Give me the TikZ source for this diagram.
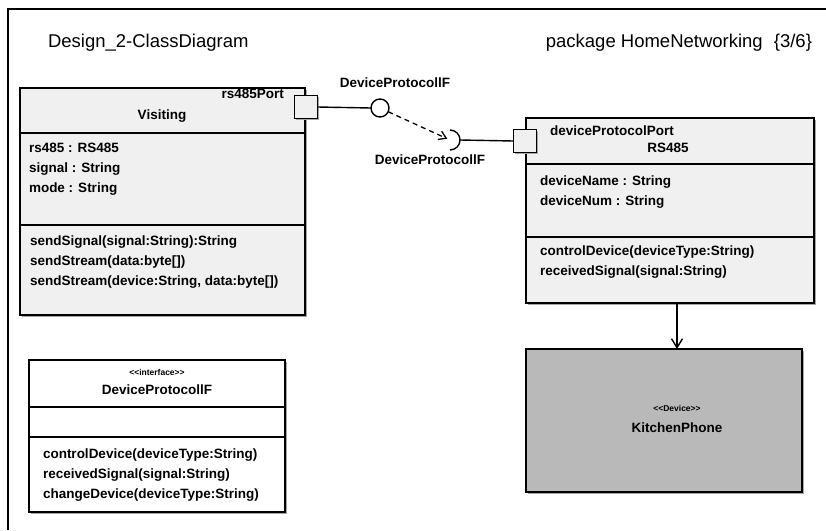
\documentclass[tikz,border=0pt]{standalone}
\usepackage{fontspec}
\setmainfont{Liberation Sans}
\usetikzlibrary{arrows.meta,shadows}
\begin{document}
\begin{tikzpicture}[x=1pt,y=-1pt,
  every node/.style={inner sep=0pt, outer sep=0pt, font=\fontsize{13.5}{16}\selectfont\bfseries},
  txt/.style={anchor=west},
  small/.style={font=\fontsize{8.5}{10}\selectfont\bfseries},
  title/.style={font=\fontsize{18.5}{22}\selectfont},
  cls/.style={draw=black, line width=1.3pt, fill=gray!12, anchor=north west,
    drop shadow={shadow xshift=1.5pt, shadow yshift=-1.5pt, fill=gray!70, opacity=1}},
  dev/.style={cls, fill=gray!55},
  iface/.style={cls, fill=white},
  portbox/.style={draw=black, line width=1.6pt, fill=gray!12, minimum size=23pt,
    drop shadow={shadow xshift=1pt, shadow yshift=-1pt, fill=gray!70, opacity=1}},
  sep/.style={line width=1.2pt},
  conn/.style={line width=1.4pt},
  ball/.style={draw=black, line width=1.4pt, fill=white, circle, minimum size=18pt},
  frame/.style={line width=2pt}
]
\useasboundingbox (0,0) rectangle (826,530);
% outer frame
\coordinate (ftl) at (8,9);
\coordinate (ftr) at (826,9);
\coordinate (fbl) at (8,530);
\draw[frame] (ftr) -- (ftl) -- (fbl);
\node[title, anchor=west] (dtitle) at (48,43) {Design\_2-ClassDiagram};
\node[title, anchor=east] (ptitle) at (812,43) {package HomeNetworking\hspace{0.6em}\{3/6\}};

% Visiting class
\node[cls, minimum width=285pt, minimum height=227pt] (visiting) at (20,88) {};
\draw[sep] (20,133) -- (305,133);
\draw[sep] (20,225) -- (305,225);
\node[anchor=east] (vport) at (284,94) {rs485Port};
\node (vname) at (162,116) {Visiting};
\node[txt] (va1) at (29,148) {rs485 : RS485};
\node[txt] (va2) at (29,169) {signal : String};
\node[txt] (va3) at (29,189) {mode : String};
\node[txt] (vm1) at (30,242) {sendSignal(signal:String):String};
\node[txt] (vm2) at (30,262) {sendStream(data:byte[])};
\node[txt] (vm3) at (30,282) {sendStream(device:String, data:byte[])};
\node[portbox] (port1) at (306,107) {};

% RS485 class
\node[cls, minimum width=288pt, minimum height=185pt] (rs) at (526,118) {};
\draw[sep] (526,164) -- (814,164);
\draw[sep] (526,237) -- (814,237);
\node[txt] (rport) at (550,131) {deviceProtocolPort};
\node (rname) at (668,148) {RS485};
\node[txt] (ra1) at (540,182) {deviceName : String};
\node[txt] (ra2) at (540,202) {deviceNum : String};
\node[txt] (rm1) at (540,252) {controlDevice(deviceType:String)};
\node[txt] (rm2) at (540,272) {receivedSignal(signal:String)};
\node[portbox] (port2) at (525,141) {};

% lollipop and socket
\node[ball] (ballnode) at (380,108) {};
\node (blabel) at (395,83) {DeviceProtocollF};
\coordinate (sock) at (450,140);
\coordinate (sockR) at (460,140);
\node (slabel) at (430,160) {DeviceProtocollF};
\draw[conn] (port1.east) -- (ballnode.west);
\draw[conn] (sock) ++(0,-10) arc[start angle=-90, end angle=90, radius=10];
\draw[conn] (sockR) -- (port2.west);
\draw[line width=1.3pt, dash pattern=on 5pt off 4pt, -{Straight Barb[length=7pt,width=9pt]}, shorten >=3pt] (ballnode) -- (sock);

% KitchenPhone
\node[dev, minimum width=276pt, minimum height=143pt] (kitchen) at (526,349) {};
\node[small] (kster) at (677,408) {{<}{<}Device{>}{>}};
\node (kname) at (677,428) {KitchenPhone};
\draw[conn, -{Straight Barb[length=9pt,width=11pt]}] (rs.south -| kname) -- (kitchen.north -| kname);

% Interface
\node[iface, minimum width=256pt, minimum height=152pt] (iface) at (29,360) {};
\draw[sep] (29,407) -- (285,407);
\draw[sep] (29,437) -- (285,437);
\node[small] (ister) at (157,372) {{<}{<}interface{>}{>}};
\node (iname) at (157,390) {DeviceProtocollF};
\node[txt] (im1) at (43,455) {controlDevice(deviceType:String)};
\node[txt] (im2) at (43,475) {receivedSignal(signal:String)};
\node[txt] (im3) at (43,495) {changeDevice(deviceType:String)};
\end{tikzpicture}
\end{document}
